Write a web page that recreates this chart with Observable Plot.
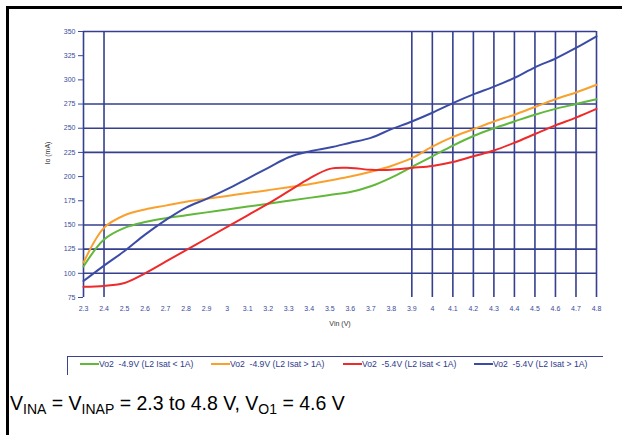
<!DOCTYPE html>
<html><head><meta charset="utf-8">
<script src="https://cdn.jsdelivr.net/npm/d3@7"></script>
<script src="https://cdn.jsdelivr.net/npm/@observablehq/plot@0.6"></script>
<style>
html,body{margin:0;padding:0;background:#fff;}
#wrap{position:relative;width:622px;height:435px;overflow:hidden;font-family:"Liberation Sans",Arial,sans-serif;}
#wrap svg{position:absolute;left:0;top:0;}
.bl{position:absolute;background:#000;}
#legend{position:absolute;left:67px;top:356px;width:535px;height:18px;border-top:1.5px solid #3a428f;border-left:1.5px solid #3a428f;}
.item{position:absolute;top:2px;height:10px;font-size:8.6px;line-height:10px;color:#2e3a8c;white-space:pre;}
.sw{position:absolute;top:6px;height:1.5px;}
#caption{position:absolute;left:10px;top:392px;font-size:19.5px;color:#000;white-space:nowrap;}
#caption sub{font-size:14px;vertical-align:-4px;line-height:0;}
</style></head><body><div id="wrap"></div>
<script>
// Input voltage categories (V)
const vin = [2.3,2.4,2.5,2.6,2.7,2.8,2.9,3.0,3.1,3.2,3.3,3.4,3.5,3.6,3.7,3.8,3.9,4.0,4.1,4.2,4.3,4.4,4.5,4.6,4.7,4.8];
const xTickLabels = ["2.3","2.4","2.5","2.6","2.7","2.8","2.9","3","3.1","3.2","3.3","3.4","3.5","3.6","3.7","3.8","3.9","4","4.1","4.2","4.3","4.4","4.5","4.6","4.7","4.8"];
const yTicks = [75,100,125,150,175,200,225,250,275,300,325,350];
const gridX = [2.3,2.4,3.9,4.0,4.1,4.2,4.3,4.4,4.5,4.6,4.7,4.8];
const gridY = [100,125,150,225,250,275,350];

const seriesNames = ["Vo2  -4.9V (L2 Isat < 1A)","Vo2  -4.9V (L2 Isat > 1A)","Vo2  -5.4V (L2 Isat < 1A)","Vo2  -5.4V (L2 Isat > 1A)"];
const seriesColors = ["#62b83a","#f9a12c","#ee2a2a","#3c4ca6"];

// Output current (mA) per series
const green49  = [107,135,147,153,157,160,163,166,169,172,175,178,181,184,190,199,210,221,232,242,250,257,264,270,275,280];
const orange49 = [111,147,160,166,170,174,177,180,183,186,189,192,196,200,205,211,219,231,241,249,257,264,272,280,287,295];
const red54    = [86,87,90,100,112,124,136,148,160,172,185,198,208,209,207,207,209,211,215,221,227,235,244,253,261,270];
const blue54   = [92,108,123,140,155,168,177,187,198,209,220,226,230,235,240,249,257,266,276,285,293,302,313,322,333,345];

const allSeries = [green49, orange49, red54, blue54];
const rows = [];
allSeries.forEach((arr, s) => arr.forEach((v, i) => rows.push({series: seriesNames[s], vin: vin[i], val: v})));
const labelMap = new Map(vin.map((v, i) => [v, xTickLabels[i]]));

const axisColor = "#3a4a9c";
const gridColor = "#353f8e";

const chart = Plot.plot({
  width: 622, height: 435,
  marginLeft: 83, marginRight: 26, marginTop: 31, marginBottom: 138,
  style: {background: "transparent", fontFamily: "Liberation Sans, Arial, sans-serif"},
  x: {domain: [2.3, 4.8], axis: null},
  y: {domain: [75, 350], axis: null},
  color: {domain: seriesNames, range: seriesColors},
  marks: [
    Plot.ruleX(gridX, {stroke: gridColor, strokeWidth: 1.6}),
    Plot.ruleY(gridY, {stroke: gridColor, strokeWidth: 1.6}),
    Plot.axisY(yTicks, {tickSize: 5, tickPadding: 3, fontSize: 7, color: axisColor, label: null}),
    Plot.axisX(vin, {tickSize: 0, tickPadding: 9, fontSize: 7, color: axisColor, label: null, tickFormat: d => labelMap.get(d)}),
    Plot.line(rows, {x: "vin", y: "val", z: "series", stroke: "series", strokeWidth: 2, curve: "catmull-rom"}),
    Plot.text(["Io (mA)"], {frameAnchor: "left", dx: -36, rotate: -90, fontSize: 7, fill: "#333"}),
    Plot.text(["Vin (V)"], {frameAnchor: "bottom", dy: 28, fontSize: 7, fill: "#333"})
  ]
});

const wrap = document.getElementById("wrap");
wrap.appendChild(chart);

// frame borders
const b1 = document.createElement("div"); b1.className = "bl";
b1.style.cssText = "left:6px;top:6px;width:3px;height:429px;"; wrap.appendChild(b1);
const b2 = document.createElement("div"); b2.className = "bl";
b2.style.cssText = "left:6px;top:6px;width:616px;height:2.5px;"; wrap.appendChild(b2);

// legend
const legend = document.createElement("div"); legend.id = "legend";
const swX = [12, 143, 275, 406];
seriesNames.forEach((name, i) => {
  const sw = document.createElement("div"); sw.className = "sw";
  sw.style.left = swX[i] + "px"; sw.style.width = "19px"; sw.style.background = seriesColors[i];
  legend.appendChild(sw);
  const t = document.createElement("div"); t.className = "item";
  t.style.left = (swX[i] + 19) + "px"; t.textContent = name;
  legend.appendChild(t);
});
wrap.appendChild(legend);

// caption
const cap = document.createElement("div"); cap.id = "caption";
cap.innerHTML = "V<sub>INA</sub> = V<sub>INAP</sub> = 2.3 to 4.8 V, V<sub>O1</sub> = 4.6 V";
wrap.appendChild(cap);
</script>
</body></html>
